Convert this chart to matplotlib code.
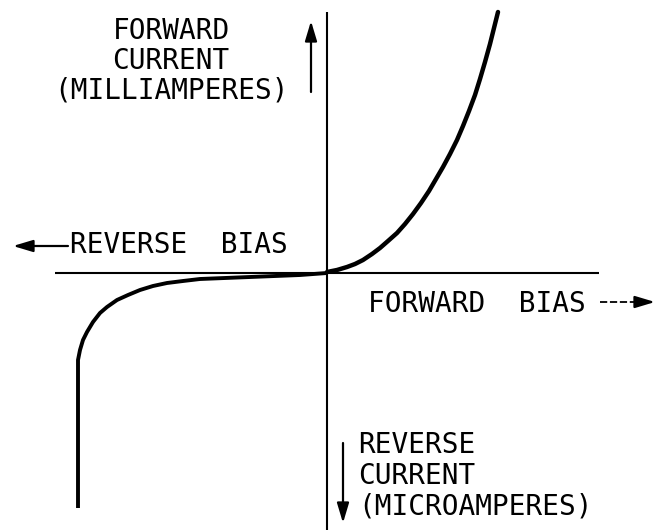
import matplotlib

matplotlib.use("Agg")
import matplotlib.pyplot as plt

# diode characteristic (bias / current in drawing units,
# origin at the crossing of the two axes)
forward_bias = [0, 10, 20, 28, 36, 45, 53, 61, 70, 78, 86, 94, 102, 109, 116,
                123, 130, 136, 142, 148, 153, 158, 163, 167, 171]
forward_current = [1, 3, 6, 9, 13, 19, 25, 32, 40, 49, 59, 70, 82, 94, 106,
                   119, 133, 147, 162, 178, 194, 211, 229, 245, 261]

reverse_bias = [0, -27, -52, -77, -102, -127, -144, -160, -174, -187, -199,
                -210, -220, -227, -234, -240, -244, -247, -249, -249, -249, -249]
reverse_current = [0, -2, -3, -4, -5, -6, -8, -10, -13, -17, -22,
                   -27, -34, -40, -49, -59, -67, -77, -87, -97, -110, -235]

top_label = ["FORWARD", "CURRENT", "(MILLIAMPERES)"]
bottom_label = ["REVERSE", "CURRENT", "(MICROAMPERES)"]
left_label = "REVERSE  BIAS"
right_label = "FORWARD  BIAS"

INK = "black"
FONT = dict(family="DejaVu Sans Mono", fontsize=20, color=INK)

fig = plt.figure(figsize=(6.56, 5.30), dpi=100)
ax = fig.add_axes([0, 0, 1, 1])
ax.set_xlim(-327, 329)
ax.set_ylim(-257, 273)
ax.axis("off")

# axes of the diagram
ax.plot([0, 0], [-257, 261], color=INK, lw=1.5, solid_capstyle="butt")
ax.plot([-272, 272], [0, 0], color=INK, lw=1.5, solid_capstyle="butt")

# characteristic curve
ax.plot(forward_bias, forward_current, color=INK, lw=3.2,
        solid_capstyle="round", solid_joinstyle="round")
ax.plot(reverse_bias, reverse_current, color=INK, lw=2.8,
        solid_capstyle="butt", solid_joinstyle="round")

# labels
for i, line in enumerate(top_label):
    ax.text(-156, 234 - 30 * i, line, ha="center", va="baseline", **FONT)
for i, line in enumerate(bottom_label):
    ax.text(31, -180 - 31 * i, line, ha="left", va="baseline", **FONT)
ax.text(-257, 20, left_label, ha="left", va="baseline", **FONT)
ax.text(41, -39, right_label, ha="left", va="baseline", **FONT)

head = "-|>,head_length=0.6,head_width=0.18"
arrow = dict(arrowstyle=head, color=INK, lw=1.6, shrinkA=0, shrinkB=0,
             mutation_scale=20)

ax.annotate("", xy=(-16, 252), xytext=(-16, 181), arrowprops=arrow)
ax.annotate("", xy=(16, -250), xytext=(16, -170), arrowprops=arrow)
ax.annotate("", xy=(-314, 27), xytext=(-259, 27), arrowprops=arrow)

ax.plot([273, 312], [-29, -29], color=INK, lw=1.3, ls=(0, (4, 1.5)))
ax.annotate("", xy=(328, -29), xytext=(310, -29), arrowprops=arrow)

fig.savefig("out.png", dpi=100, facecolor="white")
plt.close(fig)
